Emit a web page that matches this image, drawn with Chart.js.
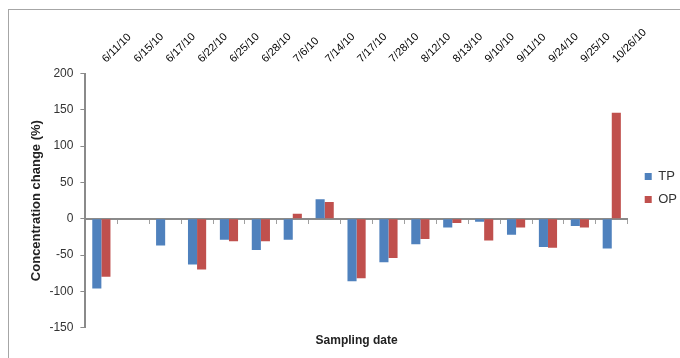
<!DOCTYPE html>
<html>
<head>
<meta charset="utf-8">
<script src="https://cdn.jsdelivr.net/npm/chart.js@4.4.1/dist/chart.umd.min.js"></script>
<style>
html, body { margin: 0; padding: 0; background: #fff; overflow: hidden; }
#frame { position: absolute; left: 8px; top: 9px; width: 700px; height: 400px; border: 1px solid #a6a6a6; }
#chart { position: absolute; left: 0; top: 0; }
</style>
</head>
<body>
<div id="frame"></div>
<canvas id="chart" width="680" height="358"></canvas>
<script>
// dades llegides del gràfic
const dates = ['6/11/10', '6/15/10', '6/17/10', '6/22/10', '6/25/10', '6/28/10', '7/6/10', '7/14/10', '7/17/10',
               '7/28/10', '8/12/10', '8/13/10', '9/10/10', '9/11/10', '9/24/10', '9/25/10', '10/26/10'];
const tpValues = [-96, null, -37, -63, -29, -43, -29, 27, -86, -60, -35, -12, -4, -22, -39, -10, -41];
const opValues = [-80, null, null, -70, -31, -31, 7, 23, -82, -54, -28, -6, -30, -12, -40, -12, 146];
const yTicks = [-150, -100, -50, 0, 50, 100, 150, 200];

const FONT = 'Liberation Sans, Arial, sans-serif';

// la llegenda queda una mica més a la dreta i amunt que on la posa Chart.js
const legendShift = {
    id: 'legendShift',
    afterLayout(chart) {
        chart.legend.left += 7;
        chart.legend.top -= 4;
        chart.legend.bottom -= 4;
    }
};

new Chart(document.getElementById('chart'), {
    type: 'bar',
    data: {
        labels: dates,
        datasets: [
            { label: 'TP', data: tpValues, backgroundColor: '#4f81bd', borderWidth: 0, xAxisID: 'x' },
            { label: 'OP', data: opValues, backgroundColor: '#c0504d', borderWidth: 0, xAxisID: 'x' }
        ]
    },
    options: {
        responsive: false,
        animation: false,
        categoryPercentage: 0.57,
        barPercentage: 1.0,
        layout: { padding: { left: 27, top: 26, right: 0, bottom: 0 } },
        plugins: {
            legend: {
                position: 'right',
                labels: {
                    boxWidth: 7, boxHeight: 7, padding: 10,
                    color: '#333', font: { family: FONT, size: 13 }
                }
            },
            title: {
                display: true,
                position: 'bottom',
                fullSize: false,
                text: 'Sampling date',
                color: '#222',
                font: { family: FONT, size: 12, weight: 'bold' },
                padding: { top: 6, bottom: 10 }
            },
            tooltip: { enabled: false }
        },
        scales: {
            x: {
                position: { y: 0 },
                offset: true,
                grid: { drawOnChartArea: false, drawTicks: true, tickLength: 4, color: '#a0a0a0', offset: true },
                border: { color: '#8a8a8a', width: 2 },
                ticks: { display: false }
            },
            x2: {
                type: 'category',
                position: 'top',
                offset: true,
                grid: { display: false },
                border: { display: false },
                ticks: {
                    minRotation: 45, maxRotation: 45, padding: 0, labelOffset: 12,
                    color: '#000', font: { family: FONT, size: 11 }
                }
            },
            y: {
                min: yTicks[0],
                max: yTicks[yTicks.length - 1],
                afterBuildTicks: axis => { axis.ticks = yTicks.map(v => ({ value: v })); },
                grid: { drawOnChartArea: false, drawTicks: true, tickLength: 5, color: '#8a8a8a' },
                border: { color: '#8a8a8a', width: 2 },
                ticks: { padding: 7, color: '#333', font: { family: FONT, size: 12 } },
                title: {
                    display: true,
                    text: 'Concentration change (%)',
                    color: '#222',
                    font: { family: FONT, size: 13, weight: 'bold' },
                    padding: { top: 2, bottom: -2.2 }
                }
            }
        }
    },
    plugins: [legendShift]
});
</script>
</body>
</html>
